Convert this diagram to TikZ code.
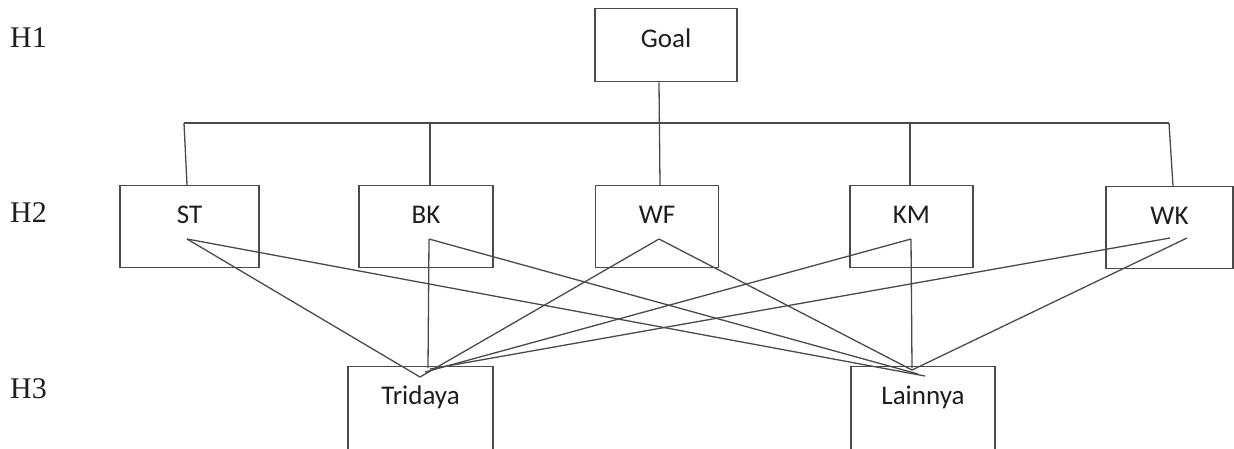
\documentclass[tikz,border=0pt]{standalone}
\usepackage{fontspec}
\setmainfont{Liberation Serif}
\newfontfamily\boxfont{Carlito}
\usetikzlibrary{calc}

\definecolor{edge}{HTML}{4A4A4A}
\definecolor{ink}{HTML}{1E1E1E}

\tikzset{
  critbox/.style={draw=edge, line width=1.4pt, inner sep=0pt, text=ink,
    font=\boxfont\fontsize{27}{27}\selectfont},
  toprow/.style={critbox, text height=39pt, text depth=34pt},
  midrow/.style={critbox, text height=38pt, text depth=44pt},
  altrow/.style={critbox, text height=38pt, text depth=48pt},
  levellabel/.style={anchor=base west, inner sep=0pt, text=ink,
    font=\fontsize{30}{30}\selectfont},
  link/.style={draw=edge, line width=1.3pt}
}

\begin{document}
\begin{tikzpicture}[x=1pt, y=-1pt]
  \clip (0,0) rectangle (1234,448);
  \fill[white] (0,0) rectangle (1234,448);

  % level labels
  \node[levellabel] (h1) at (10,47)  {H1};
  \node[levellabel] (h2) at (10,222) {H2};
  \node[levellabel] (h3) at (10,398) {H3};

  % goal
  \node[toprow, minimum width=142pt] (goal) at (666,8) [anchor=north] {Goal};

  % criteria
  \node[midrow, minimum width=139pt, anchor=north] (st) at (189.5,185) {ST};
  \node[midrow, minimum width=134pt, anchor=north] (bk) at (426,185) {BK};
  \node[midrow, minimum width=123pt, anchor=north] (wf) at (657,185) {WF};
  \node[midrow, minimum width=123pt, anchor=north] (km) at (911.5,185) {KM};
  \node[midrow, minimum width=127pt, anchor=north] (wk) at (1169.5,186) {WK};

  % alternatives
  \node[altrow, minimum width=145pt, anchor=north] (tri) at (420.5,366) {Tridaya};
  \node[altrow, minimum width=144pt, anchor=north] (lai) at (923,366) {Lainnya};

  % bus between goal and criteria
  \coordinate (busL) at (184,123);
  \coordinate (busR) at (1169,123);
  \draw[link] (busL) -- (busR);
  \draw[link] ([xshift=-7pt]goal.south) -- ([xshift=3pt]wf.north);
  \draw[link] (busL) -- ([xshift=-2.5pt]st.north);
  \draw[link] ([xshift=4pt]bk.north |- busL) -- ([xshift=4pt]bk.north);
  \draw[link] ([xshift=-1.5pt]km.north |- busL) -- ([xshift=-1.5pt]km.north);
  \draw[link] (busR) -- ([xshift=3.5pt]wk.north);

  % link origins inside the criteria boxes
  \coordinate (st-o)  at (187,239);
  \coordinate (bk-o)  at (429,239);
  \coordinate (wf-o)  at (659,239);
  \coordinate (km-o)  at (911,239);
  \coordinate (wk-o1) at (1170,238);
  \coordinate (wk-o2) at (1187,238);

  % link ends at the alternatives
  \coordinate (tri-a) at (420,377);
  \coordinate (tri-b) at (428,368);
  \coordinate (tri-c) at (425,372);
  \coordinate (tri-d) at (430,369);
  \coordinate (lai-a) at (925,376);
  \coordinate (lai-b) at (918,374);
  \coordinate (lai-c) at (912,370);
  \coordinate (lai-d) at (912,368);

  % criteria to Tridaya
  \draw[link] (st-o) -- (tri-a);
  \draw[link] (bk-o) -- (tri-b);
  \draw[link] (wf-o) -- (tri-a);
  \draw[link] (km-o) -- (tri-c);
  \draw[link] (wk-o1) -- (tri-d);

  % criteria to Lainnya
  \draw[link] (st-o) -- (lai-a);
  \draw[link] (bk-o) -- (lai-b);
  \draw[link] (wf-o) -- (lai-c);
  \draw[link] (km-o) -- (lai-d);
  \draw[link] (wk-o2) -- (lai-c);
\end{tikzpicture}
\end{document}
